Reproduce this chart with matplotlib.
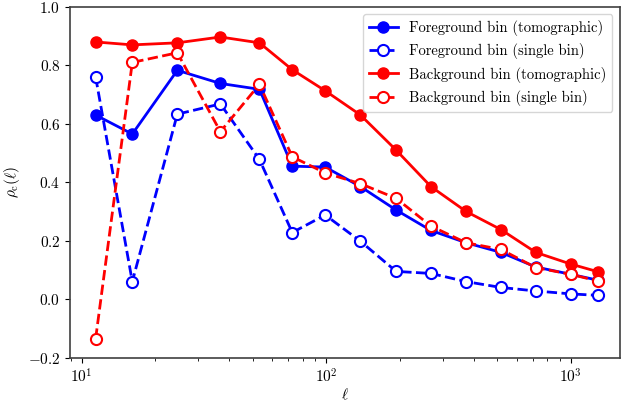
import matplotlib
matplotlib.use("Agg")
import matplotlib.pyplot as plt

plt.rcParams['font.family'] = 'serif'
plt.rcParams['font.serif'] = ['cmr10']
plt.rcParams['mathtext.fontset'] = 'cm'
plt.rcParams['axes.formatter.use_mathtext'] = True
plt.rcParams['axes.unicode_minus'] = True

# multipoles
ell = [11.4, 16.1, 24.6, 36.9, 53.3, 72.6, 99, 138, 193, 268, 373, 518, 719, 1000, 1289]

fg_tomo = [0.63, 0.565, 0.783, 0.738, 0.718, 0.455, 0.452, 0.385, 0.305, 0.235,
           0.193, 0.16, 0.11, 0.085, 0.065]
fg_single = [0.76, 0.06, 0.633, 0.668, 0.478, 0.228, 0.288, 0.198, 0.095, 0.088,
             0.06, 0.04, 0.028, 0.018, 0.013]
bg_tomo = [0.88, 0.87, 0.877, 0.897, 0.877, 0.785, 0.713, 0.63, 0.51, 0.385,
           0.30, 0.238, 0.16, 0.12, 0.094]
bg_single = [-0.135, 0.81, 0.843, 0.573, 0.735, 0.487, 0.432, 0.395, 0.345, 0.25,
             0.193, 0.17, 0.108, 0.085, 0.062]

fig = plt.figure(figsize=(6.21, 4.05), dpi=100)
ax = fig.add_axes([0.113, 0.117, 0.885, 0.866])

ax.plot(ell, fg_tomo, '-o', color='blue', lw=2, ms=8, label='Foreground bin (tomographic)')
ax.plot(ell, fg_single, '--o', color='blue', lw=2, ms=8, mfc='white', mew=1.5,
        label='Foreground bin (single bin)')
ax.plot(ell, bg_tomo, '-o', color='red', lw=2, ms=8, label='Background bin (tomographic)')
ax.plot(ell, bg_single, '--o', color='red', lw=2, ms=8, mfc='white', mew=1.5,
        label='Background bin (single bin)')

ax.set_xscale('log')
ax.set_xlim(8.97, 1585)
ax.set_ylim(-0.2, 1.0)
ax.set_xlabel(r'$\ell$', fontsize=11, labelpad=1)
ax.set_ylabel(r'$\rho_{\mathrm{c}}(\ell)$', fontsize=11)
ax.tick_params(labelsize=11)
for s in ax.spines.values():
    s.set_color('0.25')
    s.set_linewidth(1.2)

ax.legend(loc='upper right', fontsize=10.5, handlelength=2.0)

fig.savefig('out.png', dpi=100)
